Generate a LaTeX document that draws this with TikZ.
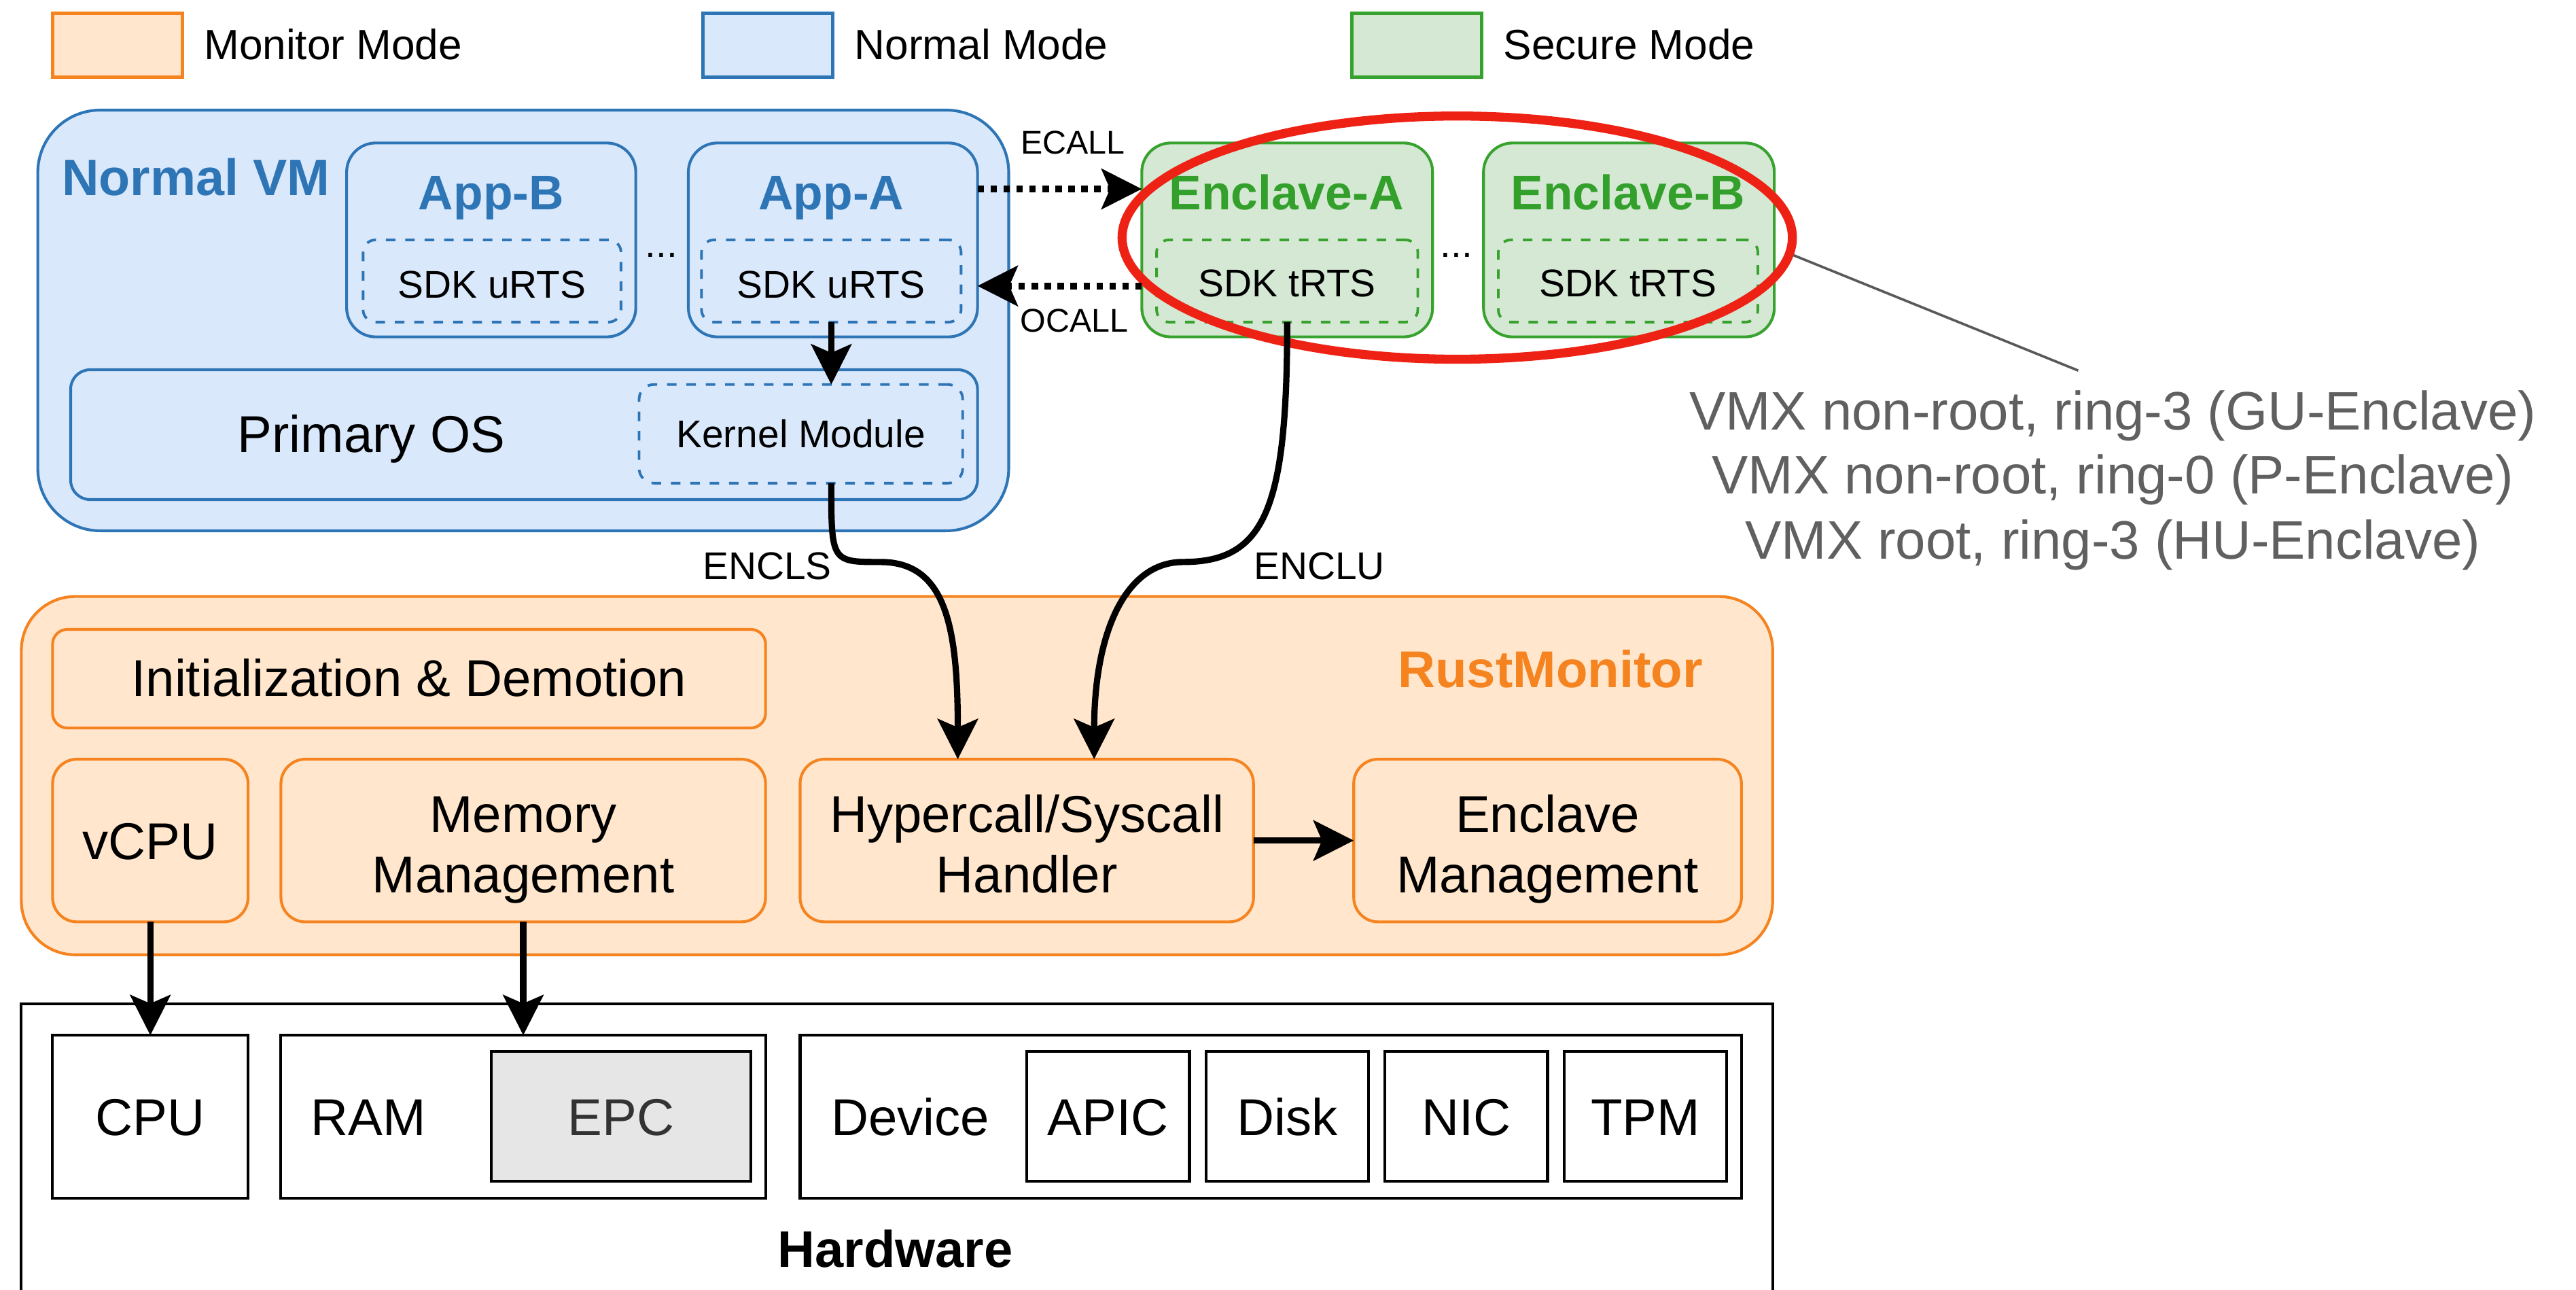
\documentclass[tikz,border=0pt]{standalone}
\usepackage{fontspec}
\setmainfont{Liberation Sans}
\usetikzlibrary{arrows.meta,shapes.geometric,calc}

\definecolor{bstroke}{HTML}{2E75B6}
\definecolor{bfill}{HTML}{DAE8FC}
\definecolor{gstroke}{HTML}{37A22E}
\definecolor{gfill}{HTML}{D5E8D4}
\definecolor{gtext}{HTML}{33A02C}
\definecolor{ostroke}{HTML}{F5831F}
\definecolor{ofill}{HTML}{FFE6CC}
\definecolor{hlred}{HTML}{EE2214}
\definecolor{greytxt}{HTML}{606060}
\definecolor{greyline}{HTML}{595959}
\definecolor{epcfill}{HTML}{E6E6E6}
\definecolor{epctext}{HTML}{333333}

\newcommand{\mkbox}[6]{\node[#1, anchor=north west, minimum width={(#5-#3)*1pt}, minimum height={(#6-#4)*1pt}] (#2) at (#3,#4) {};}
\newcommand{\mklbl}[5]{\node[anchor=base, inner sep=0pt, #1] (#2) at (#3,#4) {#5};}

\tikzset{
  common/.style={inner sep=0pt, outer sep=0pt},
  bbox/.style={common, draw=bstroke, fill=bfill, line width=1.7pt},
  bdash/.style={common, draw=bstroke, line width=1.6pt, dash pattern=on 5.8pt off 6pt},
  gbox/.style={common, draw=gstroke, fill=gfill, line width=1.7pt},
  gdash/.style={common, draw=gstroke, line width=1.6pt, dash pattern=on 5.8pt off 6pt},
  obox/.style={common, draw=ostroke, fill=ofill, line width=1.7pt},
  hbox/.style={common, draw=black, fill=white, line width=1.7pt},
  arr/.style={line width=3.8pt, -{Stealth[length=24.5pt,width=24.5pt,inset=5.2pt]}},
  dotarr/.style={line width=4pt, dash pattern=on 3.9pt off 4pt, -{Stealth[length=24.5pt,width=24.5pt,inset=5.2pt]}},
  fsmall/.style={font=\fontsize{23.5}{28}\selectfont},
  fcall/.style={font=\fontsize{20}{24}\selectfont},
  flegend/.style={font=\fontsize{25.7}{30}\selectfont},
  fmain/.style={font=\fontsize{31.5}{37}\selectfont},
  ftitle/.style={font=\fontsize{29.5}{35}\selectfont\bfseries},
  fbig/.style={font=\fontsize{31.4}{37}\selectfont\bfseries},
  fgrey/.style={font=\fontsize{33}{39}\selectfont, text=greytxt},
}

\begin{document}
\begin{tikzpicture}[x=1pt,y=-1pt]
\useasboundingbox (0,0) rectangle (1568,785);

% ---------- legend ----------
\mkbox{obox, line width=2pt}{legM}{32}{8}{111}{47}
\mkbox{bbox, line width=2pt}{legN}{428}{8}{507}{47}
\mkbox{gbox, line width=2pt}{legS}{823}{8}{902}{47}
\mklbl{flegend, anchor=base west}{legMt}{124}{36.2}{Monitor Mode}
\mklbl{flegend, anchor=base west}{legNt}{520}{36.2}{Normal Mode}
\mklbl{flegend, anchor=base west}{legSt}{915}{36.2}{Secure Mode}

% ---------- Normal VM ----------
\mkbox{bbox, rounded corners=38pt}{vm}{23}{67}{614}{323}
\mkbox{bbox, rounded corners=17.7pt}{appB}{211}{87}{387}{205}
\mkbox{bbox, rounded corners=17.7pt}{appA}{419}{87}{595}{205}
\mkbox{bdash, rounded corners=7.5pt}{uB}{221}{146}{378}{196}
\mkbox{bdash, rounded corners=7.5pt}{uA}{427}{146}{585}{196}
\mkbox{bbox, rounded corners=11.8pt}{os}{43}{225}{595}{304}
\mkbox{bdash, rounded corners=9pt}{km}{389}{234}{586}{294}

\mklbl{font=\fontsize{31.2}{37}\selectfont\bfseries, text=bstroke, anchor=base west}{vmt}{37.6}{119}{Normal VM}
\mklbl{ftitle, text=bstroke}{appBt}{299}{127.5}{App-B}
\mklbl{ftitle, text=bstroke}{appAt}{506}{127.5}{App-A}
\mklbl{fsmall}{uBt}{299.5}{181.4}{SDK uRTS}
\mklbl{fsmall}{uAt}{506}{181.4}{SDK uRTS}
\mklbl{fsmall}{dots1}{402.5}{156.5}{...}
\mklbl{fmain}{ost}{226}{275.3}{Primary OS}
\mklbl{fsmall}{kmt}{487.5}{272.4}{Kernel Module}

% ---------- Enclaves ----------
\mkbox{gbox, rounded corners=17.7pt}{encA}{695}{87}{872}{205}
\mkbox{gbox, rounded corners=17.7pt}{encB}{903}{87}{1080}{205}
\mkbox{gdash, rounded corners=7.5pt}{tA}{704}{146}{863}{196}
\mkbox{gdash, rounded corners=7.5pt}{tB}{912}{146}{1070}{196}
\mklbl{ftitle, text=gtext}{encAt}{783}{127.5}{Enclave-A}
\mklbl{ftitle, text=gtext}{encBt}{991}{127.5}{Enclave-B}
\mklbl{fsmall}{tAt}{783.5}{180.4}{SDK tRTS}
\mklbl{fsmall}{tBt}{991}{180.4}{SDK tRTS}
\mklbl{fsmall}{dots2}{886.5}{156.5}{...}

% ---------- RustMonitor ----------
\mkbox{obox, rounded corners=32.7pt}{rm}{13}{363}{1079}{581}
\mkbox{obox, rounded corners=9pt}{init}{32}{383}{466}{443}
\mkbox{obox, rounded corners=14.9pt}{vcpu}{32}{462}{151}{561}
\mkbox{obox, rounded corners=14.9pt}{mem}{171}{462}{466}{561}
\mkbox{obox, rounded corners=14.9pt}{hyp}{487}{462}{763}{561}
\mkbox{obox, rounded corners=14.9pt}{encm}{824}{462}{1060}{561}
\mklbl{font=\fontsize{31.5}{37}\selectfont\bfseries, text=ostroke}{rmt}{943.7}{418.3}{RustMonitor}
\mklbl{fmain}{initt}{249}{423.8}{Initialization \& Demotion}
\mklbl{fmain}{vcput}{91.5}{522.8}{vCPU}
\mklbl{fmain}{memt1}{318.5}{506.3}{Memory}
\mklbl{fmain}{memt2}{318.5}{543.3}{Management}
\mklbl{fmain}{hypt1}{625}{506.3}{Hypercall/Syscall}
\mklbl{fmain}{hypt2}{625}{543.3}{Handler}
\mklbl{fmain}{encmt1}{942}{506.3}{Enclave}
\mklbl{fmain}{encmt2}{942}{543.3}{Management}

% ---------- Hardware ----------
\mkbox{hbox}{hw}{13}{611}{1079}{795}
\mkbox{hbox}{cpu}{32}{630}{151}{729}
\mkbox{hbox}{ram}{171}{630}{466}{729}
\mkbox{hbox, fill=epcfill}{epc}{299}{640}{457}{719}
\mkbox{hbox}{dev}{487}{630}{1060}{729}
\mkbox{hbox}{apic}{625}{640}{724}{719}
\mkbox{hbox}{disk}{734}{640}{833}{719}
\mkbox{hbox}{nic}{843}{640}{942}{719}
\mkbox{hbox}{tpm}{952}{640}{1051}{719}
\mklbl{fmain}{cput}{91.5}{690.8}{CPU}
\mklbl{fmain}{ramt}{224.4}{690.8}{RAM}
\mklbl{fmain, text=epctext}{epct}{378}{690.8}{EPC}
\mklbl{fmain}{devt}{554}{690.8}{Device}
\mklbl{fmain}{apict}{674.5}{690.8}{APIC}
\mklbl{fmain}{diskt}{783.5}{690.8}{Disk}
\mklbl{fmain}{nict}{892.5}{690.8}{NIC}
\mklbl{fmain}{tpmt}{1001.5}{690.8}{TPM}
\mklbl{fbig}{hwt}{545}{771.3}{Hardware}

% ---------- highlight ----------
\node[ellipse, draw=hlred, line width=5.5pt, minimum width=408pt, minimum height=148pt, inner sep=0pt] (hl) at (887,144.6) {};
\coordinate (lvlpt) at (1265,225.5);
\draw[greyline, line width=1.5pt] (hl.-3) -- (lvlpt);
\mklbl{fgrey}{lvl1}{1286}{261.6}{VMX non-root, ring-3 (GU-Enclave)}
\mklbl{fgrey}{lvl2}{1286}{300.4}{VMX non-root, ring-0 (P-Enclave)}
\mklbl{fgrey}{lvl3}{1286}{340}{VMX root, ring-3 (HU-Enclave)}

% ---------- connectors ----------
\draw[dotarr] ([yshift=31pt]appA.east) -- ([yshift=31pt]encA.west);
\draw[dotarr] ([yshift=-28pt]encA.west) -- ([yshift=-28pt]appA.east);
\mklbl{fcall}{ecall}{653}{93.7}{ECALL}
\mklbl{fcall}{ocall}{654}{202}{OCALL}

\draw[arr] (uA.south) -- (uA.south |- km.north);
\draw[arr] (uA.south |- km.south)
  .. controls ($(uA.south |- km.south)+(0,48)$) .. ($(uA.south |- km.south)+(30,48)$)
  .. controls ($(uA.south |- km.south)+(70,48)$) and ($(hyp.north)+(-42,-80)$) .. ($(hyp.north)+(-42,0)$);
\draw[arr] (tA.south)
  .. controls ($(tA.south)+(0,114)$) and ($(tA.south)+(-13.5,146)$) .. ($(tA.south)+(-63.5,146)$)
  .. controls ($(tA.south)+(-98.5,146)$) and ($(hyp.north)+(41,-77)$) .. ($(hyp.north)+(41,0)$);
\mklbl{fsmall}{encls}{467}{352.8}{ENCLS}
\mklbl{fsmall}{enclu}{803}{352.8}{ENCLU}

\draw[arr] (hyp.east) -- (encm.west);
\draw[arr] (vcpu.south) -- (cpu.north);
\draw[arr] (mem.south) -- (mem.south |- ram.north);
\end{tikzpicture}
\end{document}
